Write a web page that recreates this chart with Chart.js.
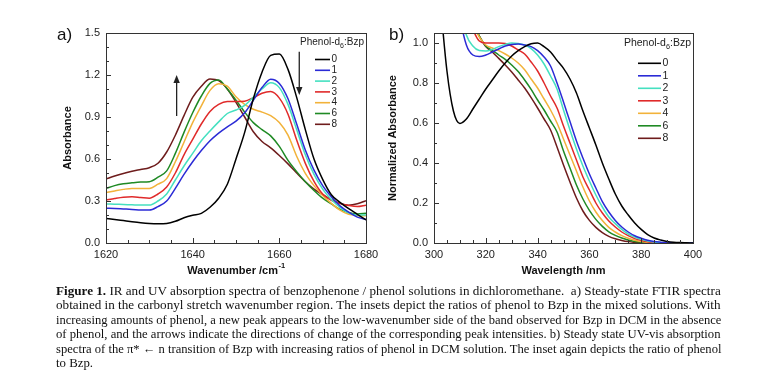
<!DOCTYPE html>
<html><head><meta charset="utf-8">
<script src="https://cdn.jsdelivr.net/npm/chart.js@4.4.1/dist/chart.umd.min.js"></script>
<style>
html,body{margin:0;padding:0;background:#fff;}
#wrap{position:relative;width:776px;height:381px;overflow:hidden;background:#fff;}
canvas{position:absolute;}
#cA{left:0;top:0;}
#cB{left:380px;top:0;}
.plabel{position:absolute;font:17px 'Liberation Sans',Arial,sans-serif;color:#111;line-height:1;}
#cap{position:absolute;left:56px;top:284px;font-family:'Liberation Serif','Times New Roman',serif;font-size:12.5px;line-height:14.4px;color:#111;}
#cap .ln{display:block;white-space:nowrap;transform-origin:0 0;width:max-content;}
</style></head>
<body><div id="wrap">
<canvas id="cA" width="384" height="285"></canvas>
<canvas id="cB" width="330" height="285"></canvas>
<div class="plabel" style="left:57px;top:26px">a)</div>
<div class="plabel" style="left:389px;top:26px">b)</div>
<div id="cap">
<span class="ln"><b>Figure 1.</b> IR and UV absorption spectra of benzophenone / phenol solutions in dichloromethane.&nbsp; a) Steady-state FTIR spectra</span>
<span class="ln">obtained in the carbonyl stretch wavenumber region. The insets depict the ratios of phenol to Bzp in the mixed solutions. With</span>
<span class="ln">increasing amounts of phenol, a new peak appears to the low-wavenumber side of the band observed for Bzp in DCM in the absence</span>
<span class="ln">of phenol, and the arrows indicate the directions of change of the corresponding peak intensities. b) Steady state UV-vis absorption</span>
<span class="ln">spectra of the π* ← n transition of Bzp with increasing ratios of phenol in DCM solution. The inset again depicts the ratio of phenol</span>
<span class="ln">to Bzp.</span>
</div>
</div>
<script>
// ---------- DATA ----------
const ratioLabels = ['0','1','2','3','4','6','8'];

// Panel a: FTIR, wavenumber /cm-1
const wavenumber = [1620,1622,1624,1626,1628,1630,1632,1634,1636,1638,1640,1642,1644,1646,1648,1650,1652,1654,1656,1658,1660,1662,1664,1666,1668,1670,1672,1674,1676,1678,1680];
const ir0 = [0.175,0.168,0.16,0.152,0.145,0.14,0.138,0.14,0.155,0.18,0.198,0.212,0.255,0.32,0.42,0.6,0.79,1.03,1.22,1.34,1.35,1.24,1.04,0.81,0.6,0.455,0.345,0.29,0.245,0.205,0.165];
const ir1 = [0.248,0.246,0.243,0.24,0.236,0.235,0.26,0.3,0.39,0.49,0.58,0.66,0.73,0.785,0.83,0.87,0.93,1.02,1.11,1.17,1.14,1.03,0.85,0.664,0.52,0.41,0.33,0.265,0.22,0.185,0.168];
const ir2 = [0.279,0.277,0.275,0.273,0.271,0.271,0.3,0.35,0.45,0.55,0.64,0.73,0.8,0.865,0.925,0.95,0.983,1.04,1.1,1.145,1.11,0.99,0.81,0.63,0.49,0.385,0.31,0.255,0.215,0.2,0.2];
const ir3 = [0.307,0.318,0.327,0.33,0.325,0.32,0.35,0.4,0.5,0.63,0.74,0.85,0.94,0.99,1.01,1.01,1.013,1.038,1.07,1.082,1.035,0.92,0.735,0.569,0.44,0.35,0.305,0.283,0.268,0.26,0.27];
const ir4 = [0.36,0.372,0.383,0.39,0.39,0.39,0.42,0.46,0.58,0.72,0.86,0.98,1.09,1.138,1.12,1.045,0.99,0.955,0.935,0.91,0.86,0.77,0.62,0.498,0.41,0.34,0.283,0.235,0.205,0.197,0.195];
const ir6 = [0.39,0.41,0.423,0.43,0.435,0.438,0.47,0.515,0.64,0.79,0.93,1.05,1.14,1.165,1.1,1.02,0.935,0.86,0.81,0.765,0.69,0.59,0.51,0.438,0.375,0.32,0.28,0.24,0.218,0.207,0.212];
const ir8 = [0.457,0.478,0.497,0.512,0.525,0.538,0.57,0.65,0.77,0.91,1.04,1.12,1.172,1.16,1.1,1.005,0.9,0.795,0.725,0.68,0.625,0.565,0.5,0.438,0.385,0.345,0.31,0.283,0.27,0.28,0.302];
const irSeries = [ir0,ir1,ir2,ir3,ir4,ir6,ir8];
// arrows: [wavenumber, from absorbance, to absorbance]
const irArrows = [[1636.3,0.907,1.2],[1664.6,1.366,1.057]];

// Panel b: UV-vis, wavelength /nm (values above 1.05 lie off the top of the frame)
const wavelength = [300,302.5,305,307.5,310,312.5,315,317.5,320,322.5,325,327.5,330,332.5,335,337.5,340,342.5,345,347.5,350,352.5,355,357.5,360,362.5,365,367.5,370,372.5,375,377.5,380,382.5,385,387.5,390,392.5,395,397.5,400];
const uv0 = [1.6,1.2,0.86,0.66,0.598,0.62,0.67,0.72,0.77,0.815,0.86,0.9,0.935,0.962,0.982,0.996,1.0,0.982,0.955,0.913,0.873,0.82,0.75,0.66,0.575,0.49,0.4,0.32,0.245,0.185,0.14,0.1,0.068,0.042,0.025,0.015,0.008,0.004,0.002,0.001,0];
const uv1 = [2.2,1.9,1.6,1.35,1.13,0.99,0.94,0.932,0.94,0.955,0.97,0.985,0.993,0.995,0.99,0.982,0.962,0.93,0.885,0.8,0.705,0.607,0.51,0.425,0.345,0.275,0.207,0.155,0.113,0.08,0.055,0.036,0.024,0.014,0.007,0.004,0.002,0.001,0,0,0];
const uv2 = [2.1,1.85,1.6,1.38,1.18,1.04,0.985,0.962,0.96,0.968,0.982,0.993,1.0,0.998,0.99,0.972,0.94,0.895,0.835,0.77,0.665,0.565,0.47,0.385,0.31,0.24,0.18,0.13,0.097,0.068,0.045,0.03,0.018,0.01,0.005,0.002,0,0,0,0,0];
const uv3 = [2.3,2.0,1.75,1.52,1.33,1.18,1.07,1.01,1.0,1.0,1.0,0.997,0.985,0.965,0.945,0.905,0.86,0.8,0.735,0.675,0.585,0.5,0.415,0.33,0.265,0.2,0.15,0.11,0.08,0.055,0.037,0.022,0.013,0.006,0.002,0,0,0,0,0,0];
const uv4 = [2.3,2.0,1.75,1.55,1.38,1.22,1.1,1.03,0.99,0.975,0.962,0.945,0.925,0.9,0.866,0.82,0.775,0.72,0.665,0.6,0.52,0.44,0.36,0.28,0.21,0.155,0.112,0.078,0.055,0.037,0.024,0.014,0.007,0.003,0.001,0,0,0,0,0,0];
const uv6 = [2.3,2.0,1.75,1.55,1.38,1.22,1.1,1.035,0.985,0.963,0.94,0.918,0.89,0.857,0.815,0.768,0.715,0.665,0.61,0.555,0.46,0.375,0.29,0.22,0.163,0.118,0.083,0.056,0.038,0.025,0.015,0.008,0.004,0.001,0,0,0,0,0,0,0];
const uv8 = [2.3,2.0,1.75,1.55,1.38,1.22,1.1,1.035,0.982,0.955,0.923,0.89,0.855,0.815,0.775,0.727,0.675,0.62,0.565,0.48,0.39,0.305,0.225,0.16,0.113,0.078,0.052,0.033,0.021,0.013,0.007,0.003,0.001,0,0,0,0,0,0,0,0];
const uvSeries = [uv0,uv1,uv2,uv3,uv4,uv6,uv8];

// ---------- STYLE ----------
const seriesColors = ['#000000','#2b2bd6','#45e0c0','#e02a2a','#f2b23a','#1f8a24','#6e1c1c'];
const FONT = "'Liberation Sans', Arial, sans-serif";
Chart.defaults.font.family = FONT;
Chart.defaults.font.size = 11;
Chart.defaults.color = '#222';

const deco = {
  id: 'deco',
  afterDatasetsDraw(chart, args, o) {
    const {ctx, chartArea: a, scales: {x, y}} = chart;
    ctx.save();
    ctx.strokeStyle = '#333'; ctx.lineWidth = 1;
    const L0 = Math.round(a.left) + 0.5, T0 = Math.round(a.top) + 0.5;
    ctx.strokeRect(L0, T0, Math.round(a.right - a.left), Math.round(a.bottom - a.top));
    const isMul = (v, s) => Math.abs(v / s - Math.round(v / s)) < 1e-6;
    ctx.beginPath();
    for (let k = 0; ; k++) {
      const v = x.min + k * o.xMinor; if (v > x.max + 1e-9) break;
      const px = Math.round(x.getPixelForValue(v)) + 0.5;
      const len = isMul(v - x.min, o.xMajor) ? 5 : 3;
      ctx.moveTo(px, a.bottom); ctx.lineTo(px, a.bottom - len);
    }
    for (let k = 0; ; k++) {
      const v = y.min + k * o.yMinor; if (v > y.max + 1e-9) break;
      const py = Math.round(y.getPixelForValue(v)) + 0.5;
      const len = isMul(v, o.yMajor) ? 5 : 3;
      ctx.moveTo(a.left, py); ctx.lineTo(a.left + len, py);
    }
    ctx.stroke();
    // arrows
    (o.arrows || []).forEach(([xv, y0, y1]) => {
      const px = x.getPixelForValue(xv), p0 = y.getPixelForValue(y0), p1 = y.getPixelForValue(y1);
      const dir = p1 < p0 ? -1 : 1;
      ctx.strokeStyle = '#222'; ctx.fillStyle = '#222'; ctx.lineWidth = 1.3;
      ctx.beginPath(); ctx.moveTo(px, p0); ctx.lineTo(px, p1 - dir * 6); ctx.stroke();
      ctx.beginPath(); ctx.moveTo(px, p1); ctx.lineTo(px - 3.2, p1 - dir * 8); ctx.lineTo(px + 3.2, p1 - dir * 8); ctx.closePath(); ctx.fill();
    });
    // legend
    const L = o.legend;
    const f = L.font + 'px ' + FONT, fs = (L.font * 0.7).toFixed(1) + 'px ' + FONT;
    ctx.textBaseline = 'middle'; ctx.textAlign = 'left'; ctx.fillStyle = '#222';
    ctx.font = f; const w1 = ctx.measureText('Phenol-d').width, w3 = ctx.measureText(':Bzp').width;
    ctx.font = fs; const w2 = ctx.measureText('6').width;
    const tx = L.titleRight - (w1 + w2 + w3);
    ctx.font = f; ctx.fillText('Phenol-d', tx, L.titleY);
    ctx.font = fs; ctx.fillText('6', tx + w1, L.titleY + L.font * 0.38);
    ctx.font = f; ctx.fillText(':Bzp', tx + w1 + w2, L.titleY);
    chart.data.datasets.forEach((ds, i) => {
      const yy = L.rowY0 + i * L.rowStep;
      ctx.strokeStyle = ds.borderColor; ctx.lineWidth = 1.6;
      ctx.beginPath(); ctx.moveTo(L.x1, yy); ctx.lineTo(L.x2, yy); ctx.stroke();
      ctx.fillStyle = '#222'; ctx.fillText(ds.label, L.x2 + 1.5, yy);
    });
    // x axis title (with optional superscript)
    const t = o.xTitle;
    const fb = 'bold 11px ' + FONT, fsup = 'bold 7.5px ' + FONT;
    ctx.font = fb; const wa = ctx.measureText(t.main).width;
    ctx.font = fsup; const wb = t.sup ? ctx.measureText(t.sup).width : 0;
    const cx = (a.left + a.right) / 2 - (wa + wb) / 2;
    ctx.fillStyle = '#111';
    ctx.font = fb; ctx.fillText(t.main, cx, t.y);
    if (t.sup) { ctx.font = fsup; ctx.fillText(t.sup, cx + wa + 0.5, t.y - 5); }
    ctx.restore();
  }
};

function makeChart(id, xs, series, xopt, yopt, deco_opts, yTitle, yTitlePad, yWidth, padRight) {
  return new Chart(document.getElementById(id), {
    type: 'line',
    data: {
      datasets: series.map((s, i) => ({
        label: ratioLabels[i],
        data: xs.map((xv, j) => ({x: xv, y: s[j]})),
        borderColor: seriesColors[i],
        borderWidth: 1.5,
        pointRadius: 0,
        cubicInterpolationMode: 'monotone',
        fill: false
      }))
    },
    options: {
      responsive: false, animation: false, devicePixelRatio: 1,
      layout: {padding: {left: 0, top: 33, right: padRight, bottom: 0}},
      plugins: {legend: {display: false}, tooltip: {enabled: false}, deco: deco_opts},
      scales: {
        x: {
          type: 'linear', min: xopt.min, max: xopt.max,
          grid: {display: false, drawTicks: false}, border: {display: false},
          ticks: {stepSize: xopt.step, padding: 5, color: '#222', font: {size: 11}, maxRotation: 0, callback: v => String(v)},
          afterFit: s => { s.height = 42; }
        },
        y: {
          type: 'linear', min: yopt.min, max: yopt.max,
          grid: {display: false, drawTicks: false}, border: {display: false},
          ticks: {stepSize: yopt.step, includeBounds: false, padding: 6, color: '#222', font: {size: 11}, callback: v => Number(v).toFixed(1)},
          title: {display: true, text: yTitle, color: '#111', font: {size: 11, weight: 'bold'}, padding: {top: yTitlePad, bottom: 0}},
          afterFit: s => { s.width = yWidth; }
        }
      }
    },
    plugins: [deco]
  });
}

makeChart('cA', wavenumber, irSeries,
  {min: 1620, max: 1680, step: 20}, {min: 0, max: 1.5, step: 0.3},
  {xMinor: 5, xMajor: 20, yMinor: 0.1, yMajor: 0.3, arrows: irArrows,
   legend: {font: 10, titleRight: 364, titleY: 42, x1: 315, x2: 330, rowY0: 59.5, rowStep: 10.8},
   xTitle: {main: 'Wavenumber /cm', sup: '-1', y: 271}},
  'Absorbance', 61.4, 106, 18);

makeChart('cB', wavelength, uvSeries,
  {min: 300, max: 400, step: 20}, {min: 0, max: 1.05, step: 0.2},
  {xMinor: 5, xMajor: 20, yMinor: 0.1, yMajor: 0.2, arrows: [],
   legend: {font: 10.5, titleRight: 311, titleY: 43.5, x1: 258, x2: 281, rowY0: 63.3, rowStep: 12.5},
   xTitle: {main: 'Wavelength /nm', sup: '', y: 271}},
  'Normalized Absorbance', 6.4, 54, 17);

// caption: fit each line to the column width
function fitCaption() {
  const lines = document.querySelectorAll('#cap .ln');
  const W = 665; let sum = 0, n = 0;
  lines.forEach((el, i) => {
    if (i < lines.length - 1) { const s = W / el.offsetWidth; el.style.transform = 'scaleX(' + s + ')'; sum += s; n++; }
  });
  lines[lines.length - 1].style.transform = 'scaleX(' + (sum / n) + ')';
}
if (document.fonts && document.fonts.ready) document.fonts.ready.then(fitCaption); else fitCaption();
</script>
</body></html>
